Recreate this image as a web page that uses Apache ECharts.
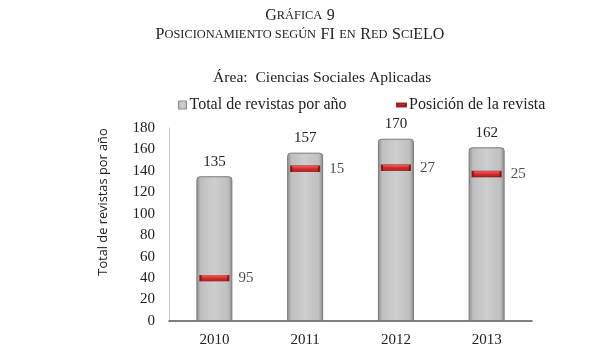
<!DOCTYPE html>
<html>
<head>
<meta charset="utf-8">
<script src="https://cdn.jsdelivr.net/npm/echarts@6/dist/echarts.min.js"></script>
<style>html,body{margin:0;padding:0;background:#fff}#c{width:600px;height:363px}</style>
</head>
<body>
<div id="c"></div>
<script>
var years = ['2010', '2011', '2012', '2013'];
var totals = [135, 157, 170, 162];
var positions = [95, 15, 27, 25];
var markerLevels = [40, 142, 143, 137];
var yTicks = { min: 0, max: 180, interval: 20 };

var serif = '"Liberation Serif", "DejaVu Serif", serif';
var richSC = {
  c: { fontSize: 16, fontFamily: serif, color: '#222' },
  s: { fontSize: 12.4, fontFamily: serif, color: '#222' }
};
var chart = echarts.init(document.getElementById('c'));
chart.setOption({
  animation: false,
  textStyle: { fontFamily: serif },
  title: [{
    text: '{c|G}{s|RÁFICA} {c|9}',
    left: 'center', top: 7, padding: 0,
    textStyle: { fontFamily: serif, fontWeight: 'normal', color: '#222', rich: richSC }
  }, {
    text: '{c|P}{s|OSICIONAMIENTO SEGÚN} {c|FI} {s|EN} {c|R}{s|ED} {c|S}{s|CI}{c|ELO}',
    left: 'center', top: 26, padding: 0,
    textStyle: { fontFamily: serif, fontWeight: 'normal', color: '#222', rich: richSC }
  }, {
    text: 'Área:  Ciencias Sociales Aplicadas',
    left: 213, top: 70, padding: 0,
    textStyle: { fontFamily: serif, fontWeight: 'normal', fontSize: 15.6, color: '#222' }
  }],
  legend: [{
    data: [{ name: 'Total de revistas por año', icon: 'rect' }],
    left: 178, top: 97, padding: 0, itemWidth: 8, itemHeight: 8,
    itemStyle: { borderColor: '#888', borderWidth: 1 },
    textStyle: { fontFamily: serif, fontSize: 16, color: '#222', padding: [0, 0, 0, -2] }
  }, {
    data: [{ name: 'Posición de la revista', icon: 'rect' }],
    left: 396, top: 97, padding: 0, itemWidth: 9, itemHeight: 3,
    textStyle: { fontFamily: serif, fontSize: 16, color: '#222', padding: [0, 0, 0, -2] }
  }],
  graphic: [{
    type: 'text', x: 103, y: 202, rotation: Math.PI / 2,
    style: {
      text: 'Total de revistas por año', align: 'center', verticalAlign: 'middle',
      fontFamily: '"Open Sans", sans-serif', fontSize: 12.8, fill: '#222'
    }
  }],
  grid: { left: 169, right: 68, top: 128, bottom: 42, containLabel: false },
  xAxis: {
    type: 'category', data: years,
    axisLine: { lineStyle: { color: '#555', width: 1.5 } },
    axisTick: { show: false },
    axisLabel: { fontFamily: serif, fontSize: 15, color: '#222', margin: 12 }
  },
  yAxis: {
    type: 'value', min: yTicks.min, max: yTicks.max, interval: yTicks.interval,
    axisLine: { show: true, lineStyle: { color: '#c8c8c8', width: 1 } },
    axisTick: { show: false },
    splitLine: { show: false },
    axisLabel: { fontFamily: serif, fontSize: 15, color: '#222', margin: 14 }
  },
  series: [{
    name: 'Total de revistas por año',
    type: 'bar', data: totals, barWidth: 36,
    itemStyle: {
      color: new echarts.graphic.LinearGradient(0, 0, 1, 0, [
        { offset: 0, color: '#8a8a8a' },
        { offset: 0.12, color: '#bfbfbf' },
        { offset: 0.5, color: '#cecece' },
        { offset: 0.88, color: '#bfbfbf' },
        { offset: 1, color: '#8a8a8a' }
      ]),
      borderColor: '#7a7a7a', borderWidth: 1, borderRadius: [3, 3, 0, 0]
    },
    label: { show: true, position: 'top', distance: 7, fontFamily: serif, fontSize: 15, color: '#222' }
  }, {
    name: 'Posición de la revista',
    type: 'scatter', data: markerLevels, symbol: 'rect', symbolSize: [28, 6], z: 5,
    itemStyle: {
      color: new echarts.graphic.LinearGradient(0, 0, 0, 1, [
        { offset: 0, color: '#ff5050' },
        { offset: 0.5, color: '#e00000' },
        { offset: 1, color: '#900000' }
      ]),
      borderColor: '#800000', borderWidth: 1
    },
    label: {
      show: true, position: 'right', distance: 9,
      formatter: function (p) { return positions[p.dataIndex]; },
      fontFamily: serif, fontSize: 15, color: '#222'
    }
  }]
});
</script>
</body>
</html>
